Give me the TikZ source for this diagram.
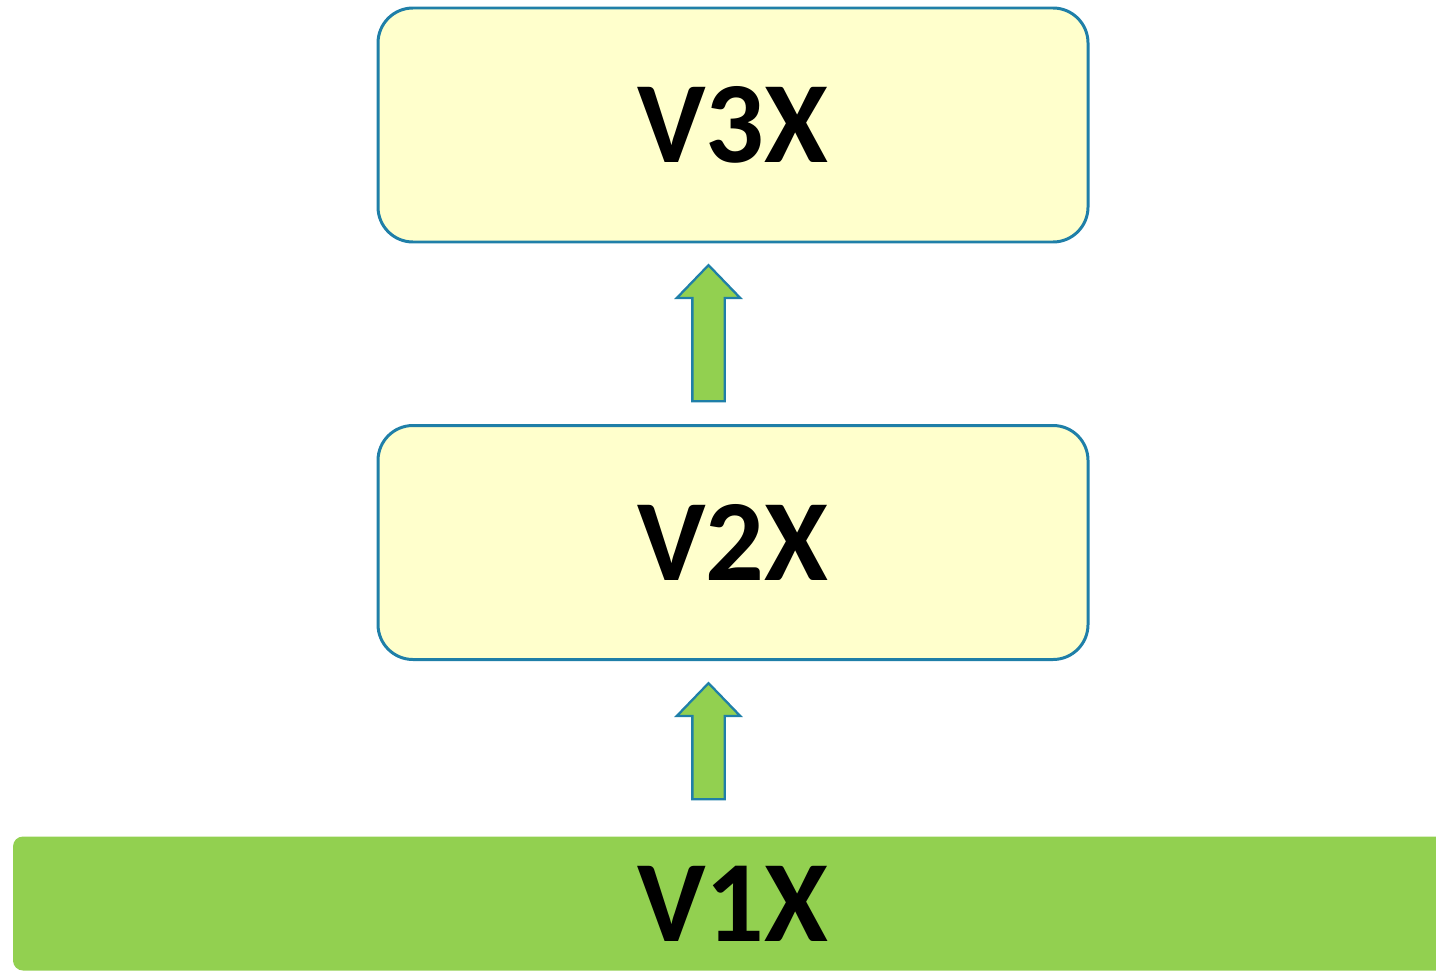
\documentclass[tikz,border=0pt]{standalone}
\usepackage{fontspec}
\setmainfont{Carlito}
\RequirePackage{xcolor}
\definecolor{layer-yellow}{RGB}{255,255,204}
\definecolor{layer-green}{RGB}{146,208,80}
\definecolor{layer-blue}{RGB}{31,127,168}
\usetikzlibrary{shapes,arrows}
\usetikzlibrary{positioning}
\begin{document}
\begin{tikzpicture}[thick]
  \tikzstyle{layerbox} = [rectangle, rounded corners=0.35cm, draw=layer-blue, line width=0.85pt, fill=layer-yellow,
                          minimum width=7.1cm, minimum height=2.34cm, font=\fontsize{33}{40}\selectfont\bfseries]
  \tikzstyle{upblock} = [single arrow, rotate=90, draw=layer-blue, line width=0.65pt, fill=layer-green,
                         inner sep=0.15cm, single arrow head extend=0.155cm, single arrow tip angle=88]
  %Page size.
    \useasboundingbox (0,0) rectangle (14.36,9.72);
    \clip (0,0) rectangle (14.36,9.72);
    \def\midx{7.33}          %Centre line of the boxes.
% Base layer, running off the right side.
    \node[rectangle, rounded corners=0.1cm, fill=layer-green, minimum width=14.4cm, minimum height=1.34cm,
          font=\fontsize{33}{40}\selectfont\bfseries] (vone) at (\midx, 0.685) {V1X};
% Upper layers
    \node[layerbox] (vtwo) at (\midx, 4.295) {V2X};
    \node[layerbox] (vthree) at (\midx, 8.47) {V3X};
% Block arrows between the layers
    \node[upblock, minimum height=1.16cm] (upone) at (7.085, 2.225) {};
    \node[upblock, minimum height=1.36cm] (uptwo) at (7.085, 6.305) {};
  \end{tikzpicture}
\end{document}
